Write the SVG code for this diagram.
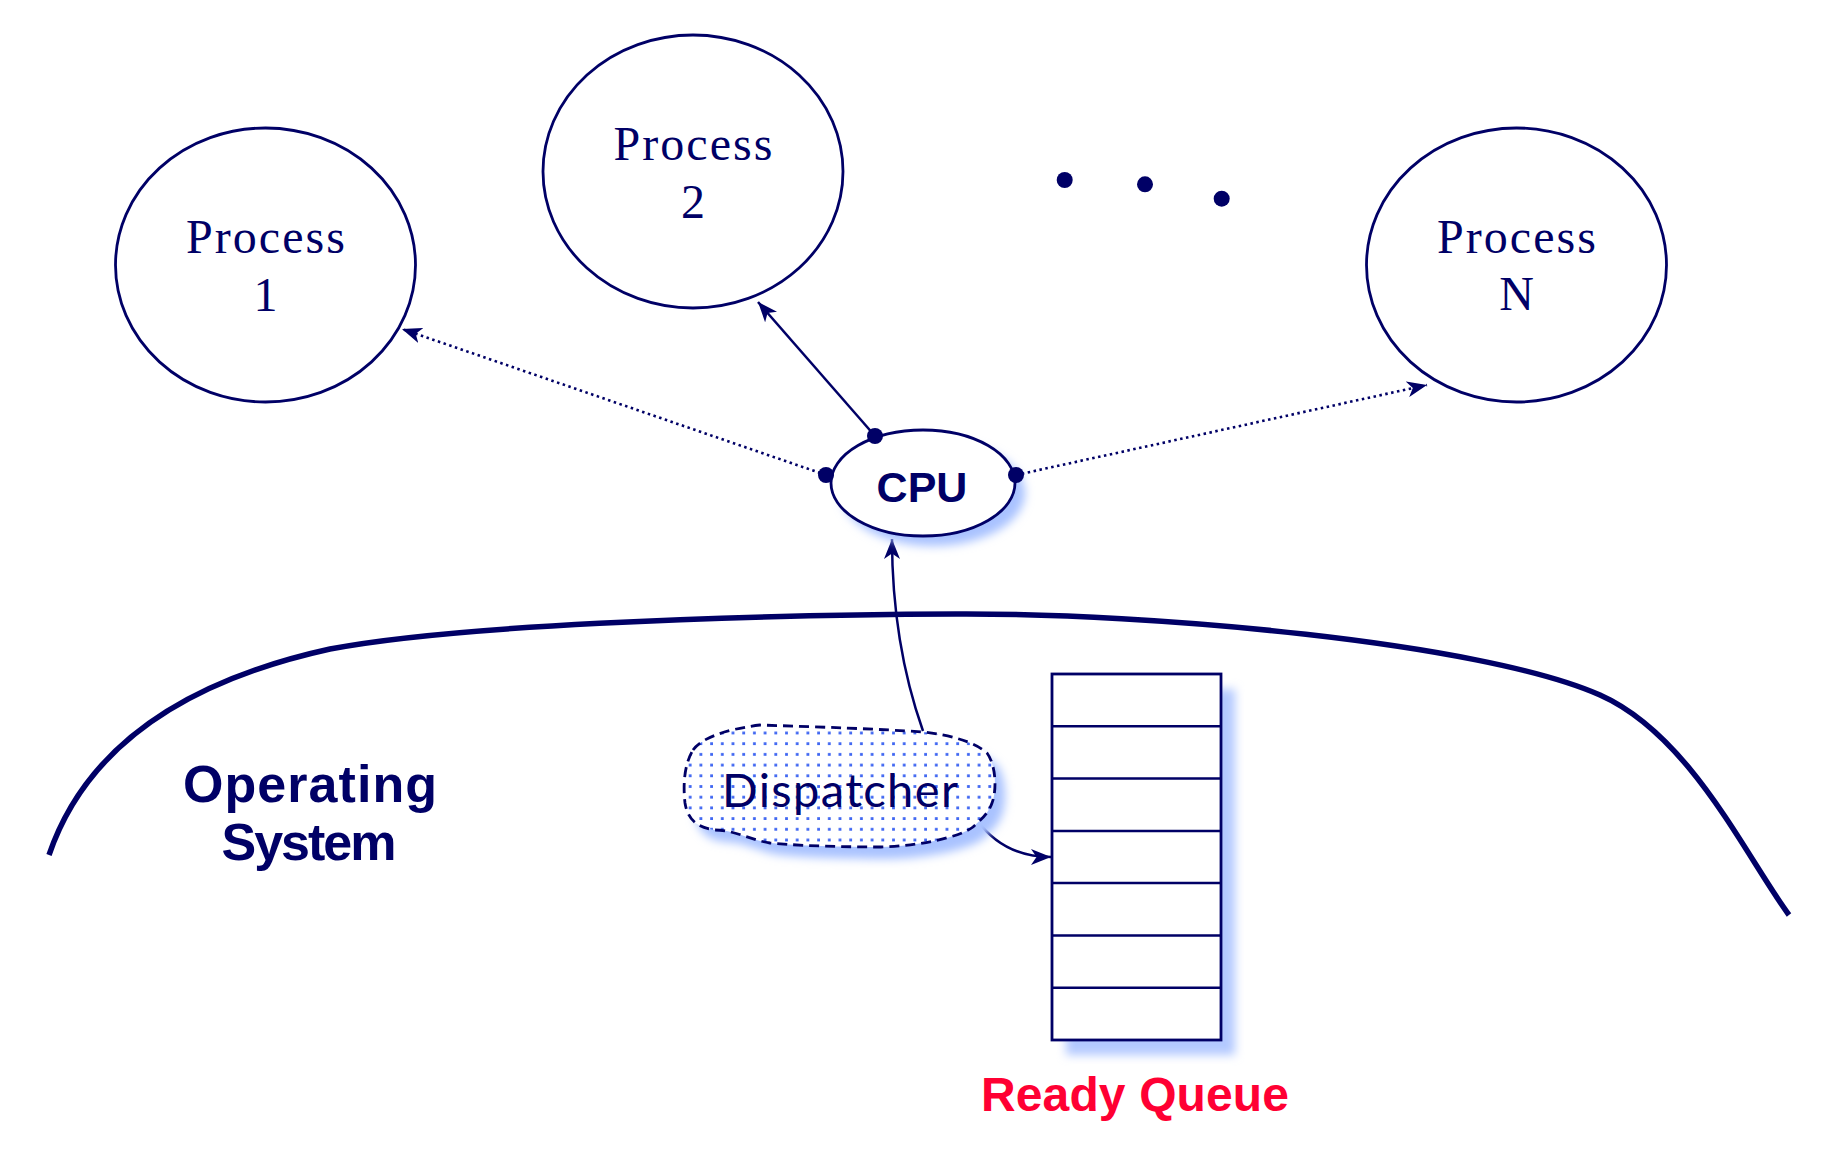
<svg xmlns="http://www.w3.org/2000/svg" width="1828" height="1169" viewBox="0 0 1828 1169">
<style>
.proc{fill:#fff;stroke:#000066;stroke-width:2.8}
.ptxt{font-family:"Liberation Serif","DejaVu Serif",serif;font-size:48px;fill:#000066;text-anchor:middle}
.con{fill:none;stroke:#000066;stroke-width:2.5}
.dot{stroke-dasharray:2.5 3.5;stroke-width:2.6}
.dotc{fill:#000066}
.bold{font-family:"Liberation Sans","DejaVu Sans",sans-serif;font-weight:bold;text-anchor:middle}
.cell{fill:none;stroke:#000066;stroke-width:2.5}
</style>
<defs>
<marker id="arr" viewBox="0 0 20 16" refX="20" refY="8" markerWidth="20" markerHeight="16" markerUnits="userSpaceOnUse" orient="auto">
<path d="M20,8 L0,0 L5.5,8 L0,16 z" fill="#000066"/>
</marker>
<filter id="sh" x="-20%" y="-20%" width="150%" height="150%">
<feGaussianBlur stdDeviation="5"/>
</filter>
<pattern id="dots" width="10.7" height="10.7" patternUnits="userSpaceOnUse">
<rect width="10.7" height="10.7" fill="#fff"/>
<rect x="4" y="4" width="2.8" height="2.8" fill="#3f66f2"/>
</pattern>
</defs>
<rect width="1828" height="1169" fill="#fff"/>

<g id="os-boundary">
<path d="M49 855 C 95 720, 230 671, 330 649 C 450 626, 720 615, 956 614 C 1150 613, 1480 642, 1600 695 C 1690 735, 1745 855, 1789 915" fill="none" stroke="#000066" stroke-width="5.5"/>
</g>

<g id="process1">
<ellipse class="proc" cx="265.5" cy="265" rx="150" ry="137"/>
<text class="ptxt" x="265.5" y="253" textLength="159">Process</text>
<text class="ptxt" x="265.5" y="311">1</text>
</g>
<g id="process2">
<ellipse class="proc" cx="693" cy="171.5" rx="150" ry="136.5"/>
<text class="ptxt" x="693" y="160" textLength="159">Process</text>
<text class="ptxt" x="693" y="218">2</text>
</g>
<g id="processN">
<ellipse class="proc" cx="1516.5" cy="265" rx="150" ry="137"/>
<text class="ptxt" x="1516.5" y="253" textLength="159">Process</text>
<text class="ptxt" x="1516.5" y="310">N</text>
</g>
<g id="ellipsis">
<circle class="dotc" cx="1064.7" cy="180" r="8"/>
<circle class="dotc" cx="1145" cy="184.3" r="8"/>
<circle class="dotc" cx="1221.7" cy="198.7" r="8"/>
</g>

<g id="connectors">
<path class="con dot" d="M826 475 L402 329" marker-end="url(#arr)"/>
<path class="con" d="M875 436 L758 302" marker-end="url(#arr)"/>
<path class="con dot" d="M1016 475 L1427 385" marker-end="url(#arr)"/>
<path class="con" d="M923 731 C 905 680, 892 620, 892 539" marker-end="url(#arr)"/>
<path class="con" d="M977 820 C 995 845, 1020 857, 1051 857" marker-end="url(#arr)"/>
</g>

<g id="cpu">
<ellipse cx="933" cy="493" rx="92" ry="53" fill="#a9c2ff" filter="url(#sh)"/>
<ellipse cx="923" cy="483" rx="92" ry="53" fill="#fff" stroke="#000066" stroke-width="2.8"/>
<text class="bold" x="922" y="502" font-size="43" fill="#000066">CPU</text>
<circle class="dotc" cx="875" cy="436" r="8"/>
<circle class="dotc" cx="826" cy="475" r="8"/>
<circle class="dotc" cx="1016" cy="475" r="8"/>
</g>

<g id="dispatcher">
<path d="M693 750 C 700 740, 720 730, 760 725 C 820 727, 880 729, 923 732 C 950 735, 975 742, 987 753 C 996 765, 997 790, 992 803 C 988 815, 978 822, 973 827 C 960 837, 920 846, 880 847 C 830 847, 790 845, 770 843 C 750 840, 735 830, 715 830 C 700 828, 688 822, 685 803 C 683 785, 684 765, 693 750 Z" transform="translate(10 12)" fill="#a9c2ff" filter="url(#sh)"/>
<path d="M693 750 C 700 740, 720 730, 760 725 C 820 727, 880 729, 923 732 C 950 735, 975 742, 987 753 C 996 765, 997 790, 992 803 C 988 815, 978 822, 973 827 C 960 837, 920 846, 880 847 C 830 847, 790 845, 770 843 C 750 840, 735 830, 715 830 C 700 828, 688 822, 685 803 C 683 785, 684 765, 693 750 Z" fill="url(#dots)" stroke="#000066" stroke-width="2.8" stroke-dasharray="10 6"/>
<text x="840" y="807" font-family="Lato,'Liberation Sans',sans-serif" font-weight="400" font-size="47" fill="#000066" text-anchor="middle" textLength="236">Dispatcher</text>
</g>

<g id="ready-queue">
<rect x="1066" y="689" width="169" height="366" fill="#b3c9ff" filter="url(#sh)"/>
<rect x="1052" y="674" width="169" height="366" fill="#fff" stroke="#000066" stroke-width="2.8"/>
<path class="cell" d="M1052 726.3H1221M1052 778.6H1221M1052 830.9H1221M1052 883.1H1221M1052 935.4H1221M1052 987.7H1221"/>
<text class="bold" x="1135" y="1111" font-size="48" fill="#ff0033" textLength="308">Ready Queue</text>
</g>

<g id="os-label">
<text class="bold" x="310" y="802" font-size="52" fill="#000066" textLength="254">Operating</text>
<text class="bold" x="309" y="860" font-size="52" fill="#000066" textLength="175">System</text>
</g>
</svg>
